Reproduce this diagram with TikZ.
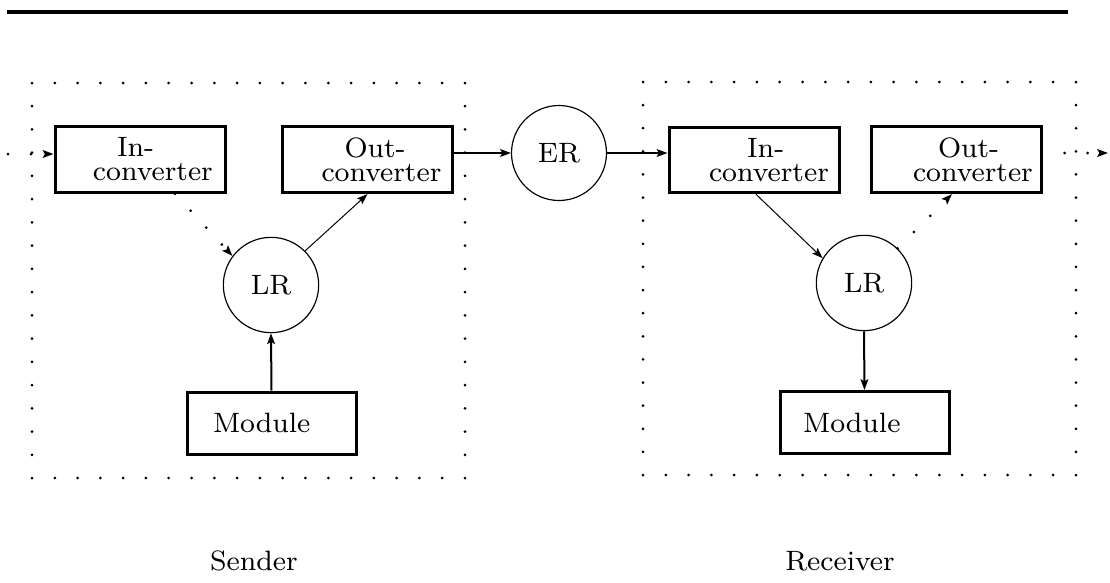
\documentclass[tikz,border=0pt]{standalone}
\usetikzlibrary{arrows.meta}
\begin{document}
\begin{tikzpicture}[x=0.3pt,y=-0.3pt,
  txt/.style={font=\fontsize{8.4}{7.2}\selectfont},
  convbox/.style={draw,line width=0.9pt,rectangle,txt,text width=51pt,inner xsep=0pt,
    minimum height=18.3pt,align=left},
  modbox/.style={draw,line width=0.9pt,rectangle,txt,text width=50.7pt,inner xsep=0pt,
    minimum height=18.6pt,align=left},
  relay/.style={draw,line width=0.35pt,circle,inner sep=0pt,minimum size=28.6pt,txt},
  tipA/.style={-{Stealth[length=3.2pt,width=2.3pt,inset=0.6pt]}},
  strong/.style={tipA,line width=0.6pt},
  thin/.style={tipA,line width=0.3pt},
  dotarrow/.style={tipA,line width=0.9pt,line cap=round,dash pattern=on 0pt off 6.9pt},
  dotdot/.style={fill=black}
]
\useasboundingbox (0,0) rectangle (1110,582);

% top rule
\coordinate (ruleL) at (7,12);
\coordinate (ruleR) at (1068,12);
\draw[line width=1.1pt] (ruleL) -- (ruleR);

% dotted frames
\foreach \i in {0,...,19} {
  \fill[dotdot] ({32+\i*22.789},83) circle (1.5);
  \fill[dotdot] ({32+\i*22.789},478) circle (1.5);
  \fill[dotdot] ({643+\i*22.789},82) circle (1.5);
  \fill[dotdot] ({643+\i*22.789},475) circle (1.5);
}
\foreach \j in {1,...,16} {
  \fill[dotdot] (32,{83+\j*23.235}) circle (1.5);
  \fill[dotdot] (465,{83+\j*23.235}) circle (1.5);
  \fill[dotdot] (643,{82+\j*23.118}) circle (1.5);
  \fill[dotdot] (1076,{82+\j*23.118}) circle (1.5);
}

% sender
\node[convbox] (inL) at (140,159.5) {\hspace*{18.6pt}In-\\\hspace*{11.4pt}converter};
\node[convbox] (outL) at (367.5,159.5) {\hspace*{18.6pt}Out-\\\hspace*{11.7pt}converter};
\node[relay] (lrL) at (271,285) {LR};
\node[modbox] (modL) at (271.5,423) {\hspace*{7.8pt}Module};

% network relay
\node[relay,minimum size=28.5pt] (er) at (559,153) {ER};

% receiver
\node[convbox] (inR) at (754,160) {\hspace*{23.4pt}In-\\\hspace*{12pt}converter};
\node[convbox] (outR) at (956,159.5) {\hspace*{20.1pt}Out-\\\hspace*{12.6pt}converter};
\node[relay] (lrR) at (864,283) {LR};
\node[modbox] (modR) at (864.5,422.5) {\hspace*{6.9pt}Module};

% labels
\node[txt,anchor=base] (sender) at (254,570) {Sender};
\node[txt,anchor=base] (receiver) at (840,570) {Receiver};

% connectors
\coordinate (src) at (8,154);
\coordinate (sink) at (1108,153);
\draw[dotarrow] (src) -- (src -| inL.west);
\draw[dotarrow] ([xshift=10.5pt]inL.south) -- (lrL.143);
\draw[thin] (lrL.45) -- (outL.south);
\draw[strong] (modL.north) -- (lrL.south);
\draw[strong] (er.west -| outL.east) -- (er.west);
\draw[strong] (er.east) -- (er.east -| inR.west);
\draw[thin] ([xshift=0.6pt]inR.south) -- (lrR.149);
\draw[dotarrow] (lrR.46) -- ([xshift=-1.2pt]outR.south);
\draw[strong] (lrR.south) -- (modR.north);
\draw[dotarrow] ([xshift=6.6pt]outR.east |- sink) -- (sink);
\end{tikzpicture}
\end{document}
